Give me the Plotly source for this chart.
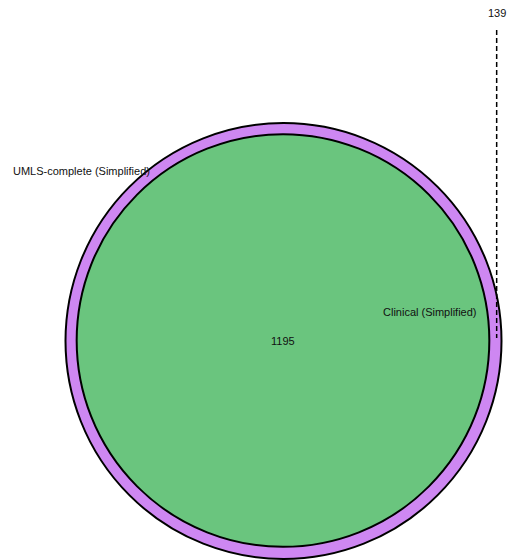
import math
import plotly.graph_objects as go

# Data
set_names = ["UMLS-complete (Simplified)", "Clinical (Simplified)"]
only_umls = 139
both = 1195
only_clinical = 0

total_umls = only_umls + both
total_clin = only_clinical + both

# layout in pixel-like data units
scale = 218.0 / math.sqrt(total_umls)
r_outer = scale * math.sqrt(total_umls)
r_inner = scale * math.sqrt(total_clin)
cx_o, cy_o = 283.5, 341.0
cx_i, cy_i = 283.0, 340.5

purple = "#CE87F2"
green = "#6AC57E"

fig = go.Figure()

fig.add_shape(type="circle", xref="x", yref="y",
              x0=cx_o - r_outer, x1=cx_o + r_outer,
              y0=cy_o - r_outer, y1=cy_o + r_outer,
              fillcolor=purple, line=dict(color="black", width=2), layer="below")
fig.add_shape(type="circle", xref="x", yref="y",
              x0=cx_i - r_inner, x1=cx_i + r_inner,
              y0=cy_i - r_inner, y1=cy_i + r_inner,
              fillcolor=green, line=dict(color="black", width=2), layer="below")

# dashed leader line for the small region
lx = cx_o + (r_outer + r_inner) / 2 + 1
fig.add_trace(go.Scatter(x=[lx, lx], y=[30, 338], mode="lines",
                         line=dict(color="black", width=1.5, dash="5px,3px"),
                         hoverinfo="skip", showlegend=False))

font = dict(family="Liberation Sans, Arial, sans-serif", size=11, color="#111111")
anns = [
    dict(x=81, y=171, text=set_names[0]),
    dict(x=430, y=312, text=set_names[1]),
    dict(x=cx_i, y=cy_i, text=str(both)),
    dict(x=lx, y=13, text=str(only_umls)),
]
for a in anns:
    fig.add_annotation(x=a["x"], y=a["y"], text=a["text"], showarrow=False,
                       xref="x", yref="y", font=font, xanchor="center", yanchor="middle")

fig.update_layout(
    width=508, height=560,
    margin=dict(l=0, r=0, t=0, b=0),
    paper_bgcolor="white", plot_bgcolor="white",
    xaxis=dict(range=[0, 508], visible=False, fixedrange=True),
    yaxis=dict(range=[560, 0], visible=False, fixedrange=True),
    showlegend=False,
)

fig.write_html("out.html", config={"displayModeBar": False})
